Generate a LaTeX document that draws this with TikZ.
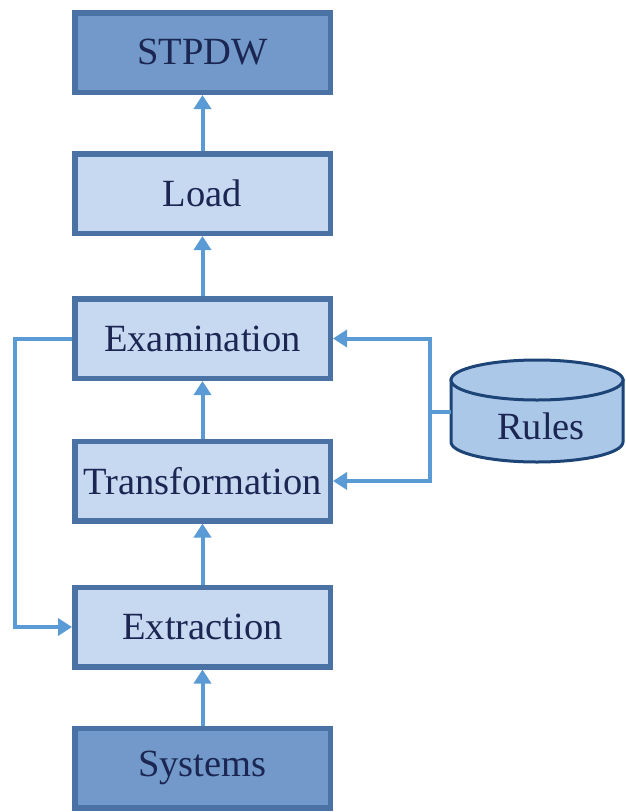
\documentclass[tikz,border=0pt]{standalone}
\usepackage{fontspec}
\setmainfont{Liberation Serif}
\usetikzlibrary{arrows.meta,shadows}
\definecolor{boxline}{RGB}{74,114,164}
\definecolor{lightfill}{RGB}{198,217,241}
\definecolor{darkfill}{RGB}{114,153,201}
\definecolor{linkblue}{RGB}{91,155,213}
\definecolor{labeltext}{RGB}{28,38,82}
\definecolor{cylfill}{RGB}{172,200,232}
\definecolor{cylline}{RGB}{28,68,118}
\tikzset{
  stagebox/.style={draw=boxline, line width=5.5pt, minimum width=255.5pt, minimum height=79.5pt,
    text=labeltext, font=\fontsize{38.5}{42}\selectfont,
    drop shadow={shadow xshift=2.5pt, shadow yshift=-2.5pt, opacity=0.35, fill=gray}},
  lightbox/.style={stagebox, fill=lightfill},
  darkbox/.style={stagebox, fill=darkfill},
  link/.style={draw=linkblue, line width=4pt},
  arr/.style={link, -{Triangle[width=17pt,length=14pt]}},
  cyl/.style={draw=cylline, line width=3pt, fill=cylfill}
}
\begin{document}
\begin{tikzpicture}[x=1pt, y=-1pt]
  \useasboundingbox (0,0) rectangle (625,812);

  % pipeline stages
  \node[darkbox]  (stpdw) at (202.5, 52.5) {STPDW};
  \node[lightbox] (load)  at (202.5,193.5) {Load};
  \node[lightbox] (exam)  at (202.5,338.5) {Examination};
  \node[lightbox] (trans) at (202.5,481)   {Transformation};
  \node[lightbox] (extr)  at (202.5,627)   {Extraction};
  \node[darkbox]  (sys)   at (202.5,768)   {Systems};

  % rules store
  \path[cyl] (451,380) -- (451,442) arc[start angle=180, end angle=0, x radius=86, y radius=20] -- (623,380) -- cycle;
  \draw[cyl] (537,380) ellipse[x radius=86, y radius=20];
  \node[text=labeltext, font=\fontsize{38.5}{42}\selectfont] (rules) at (541,426) {Rules};
  \coordinate (rulesW) at (451,412);
  \coordinate (jn) at (430,412);
  \coordinate (lp) at (15,338.5);

  % upward flow
  \draw[arr] (sys.north)   -- (extr.south);
  \draw[arr] (extr.north)  -- (trans.south);
  \draw[arr] (trans.north) -- (exam.south);
  \draw[arr] (exam.north)  -- (load.south);
  \draw[arr] (load.north)  -- (stpdw.south);

  % rules feed examination and transformation
  \draw[link] (rulesW) -- (jn);
  \draw[arr] (jn) |- (exam.east);
  \draw[arr] (jn) |- (trans.east);

  % feedback loop to extraction
  \draw[arr] (exam.west) -- (lp) |- (extr.west);
\end{tikzpicture}
\end{document}
